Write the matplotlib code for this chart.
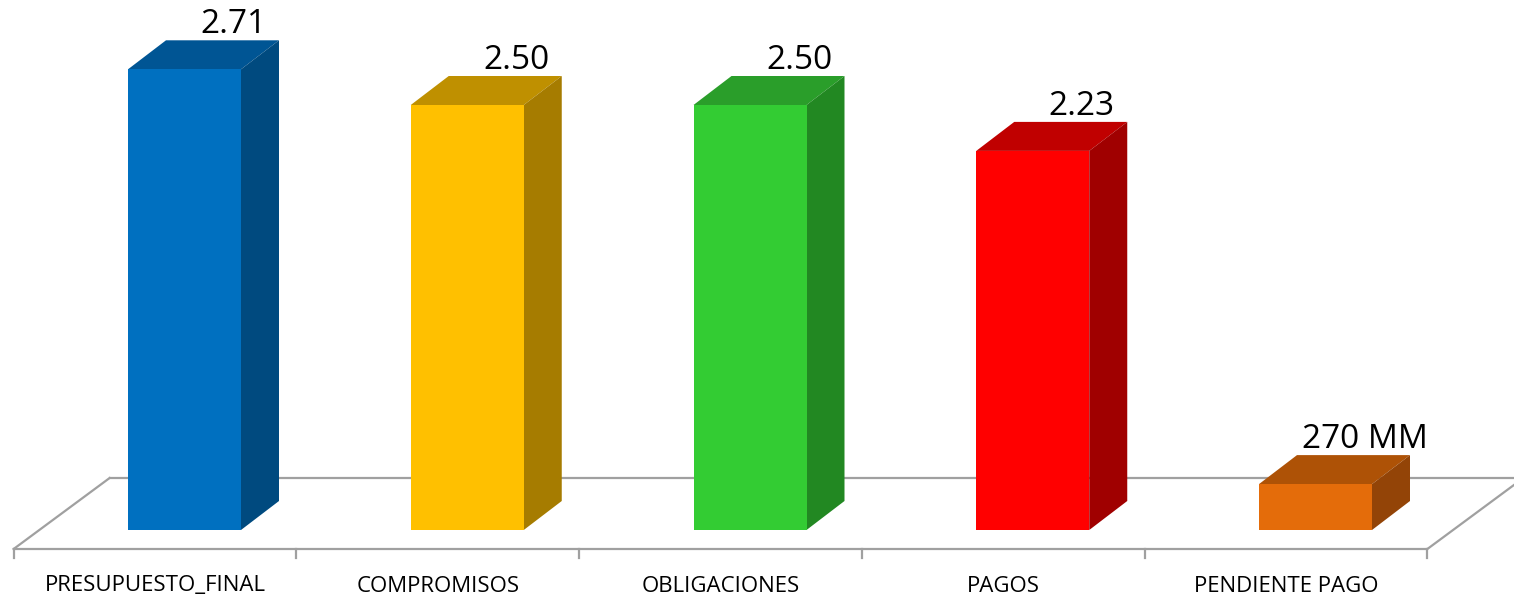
import matplotlib
matplotlib.use("Agg")
import matplotlib.pyplot as plt
from matplotlib.patches import Polygon

categories = ["PRESUPUESTO_FINAL", "COMPROMISOS", "OBLIGACIONES", "PAGOS", "PENDIENTE PAGO"]
values = [2.71, 2.50, 2.50, 2.23, 0.27]
value_labels = ["2.71", "2.50", "2.50", "2.23", "270 MM"]
front_colors = ["#0070C0", "#FFC000", "#33CC33", "#FF0000", "#E46C0A"]
top_colors = ["#005594", "#BF9000", "#2A9E2A", "#C00000", "#AE5206"]
side_colors = ["#004A7F", "#A67C00", "#228822", "#A00000", "#934407"]

W, H = 1514, 598
fig = plt.figure(figsize=(W / 100, H / 100), dpi=100)
ax = fig.add_axes([0, 0, 1, 1])
px_x = 282.75  # px per category
px_y = 170.0   # px per value unit
ax.set_xlim((0 - 155) / px_x, (W - 155) / px_x)
ax.set_ylim((530 - H) / px_y, 530 / px_y)
ax.axis("off")

# 3D geometry (data units)
DX = 38 / px_x
DY = 29 / px_y
FDX = 96 / px_x
FDY = 71 / px_y
bar_shift = 29.5 / px_x
bar_w = 113 / px_x
floor_y = -19 / px_y
n = len(categories)
floor_l, floor_r = -0.5, n - 0.5

grey = "#A0A0A0"
lw = 1.6
# floor
ax.plot([floor_l + FDX, floor_r + FDX + 1], [floor_y + FDY, floor_y + FDY], color=grey, lw=lw, zorder=1)
ax.plot([floor_l, floor_l + FDX], [floor_y, floor_y + FDY], color=grey, lw=lw, zorder=1)
ax.plot([floor_r, floor_r + FDX], [floor_y, floor_y + FDY], color=grey, lw=lw, zorder=1)
ax.plot([floor_l, floor_r], [floor_y, floor_y], color=grey, lw=lw, zorder=1)
tick_len = 9 / px_y
for b in range(n + 1):
    xb = floor_l + b
    ax.plot([xb, xb], [floor_y, floor_y - tick_len], color=grey, lw=lw, zorder=1)

# bars
for i, v in enumerate(values):
    xc = i + bar_shift
    x0, x1 = xc - bar_w / 2, xc + bar_w / 2
    ax.bar(xc, v, width=bar_w, bottom=0, color=front_colors[i], zorder=3, linewidth=0)
    top = Polygon([(x0, v), (x1, v), (x1 + DX, v + DY), (x0 + DX, v + DY)],
                  closed=True, facecolor=top_colors[i], edgecolor="none", zorder=2)
    side = Polygon([(x1, 0), (x1 + DX, DY), (x1 + DX, v + DY), (x1, v)],
                   closed=True, facecolor=side_colors[i], edgecolor="none", zorder=2)
    ax.add_patch(top)
    ax.add_patch(side)
    ax.text(xc + DX + 11 / px_x, v + DY + 7 / px_y, value_labels[i],
            ha="center", va="baseline", fontsize=24, family="Open Sans", color="black", zorder=4)
    ax.text(i, -56 / px_y, categories[i], ha="center", va="center",
            fontsize=16, family="Open Sans", color="black")

fig.savefig("out.png", dpi=100)
